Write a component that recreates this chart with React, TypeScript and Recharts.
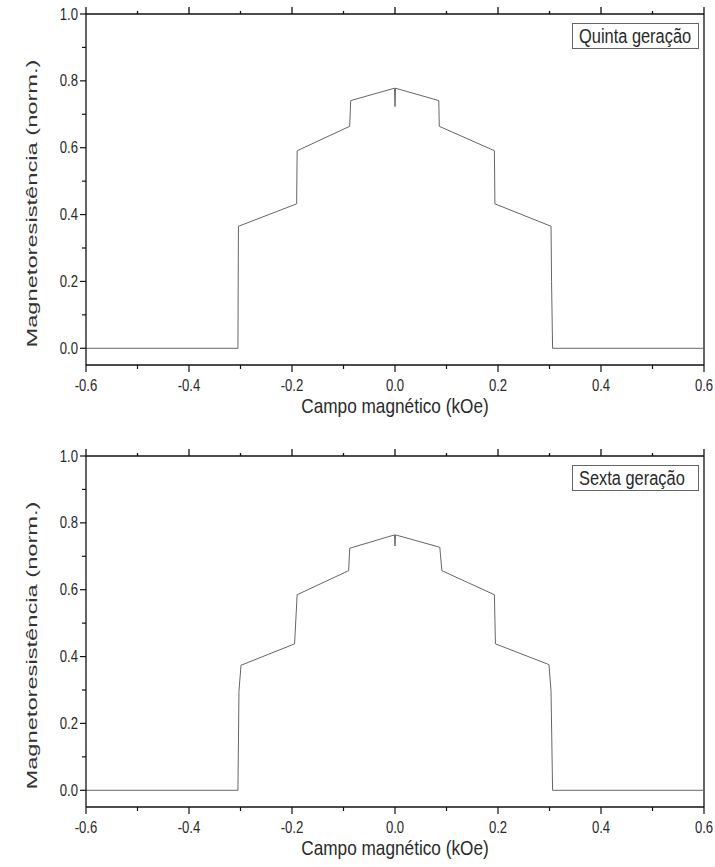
import React from "react";
import { Line, LineChart, ReferenceLine, XAxis, YAxis } from "recharts";

// campo magnético (kOe) e magnetoresistência normalizada
const H_QUINTA = [-0.6, -0.305, -0.304, -0.191, -0.19, -0.088, -0.086, -0.001, 0, 0.001, 0.085, 0.086, 0.193, 0.194, 0.303, 0.304, 0.306, 0.6];
const MR_QUINTA = [0, 0, 0.365, 0.432, 0.591, 0.664, 0.741, 0.778, 0.723, 0.778, 0.741, 0.664, 0.591, 0.432, 0.365, 0.2, 0, 0];

const H_SEXTA = [-0.6, -0.305, -0.303, -0.299, -0.195, -0.19, -0.09, -0.088, -0.001, 0, 0.001, 0.087, 0.091, 0.193, 0.195, 0.299, 0.303, 0.306, 0.6];
const MR_SEXTA = [0, 0, 0.296, 0.374, 0.438, 0.585, 0.657, 0.724, 0.764, 0.731, 0.764, 0.727, 0.657, 0.585, 0.438, 0.376, 0.296, 0, 0];

const X_TICKS = [-0.6, -0.5, -0.4, -0.3, -0.2, -0.1, 0, 0.1, 0.2, 0.3, 0.4, 0.5, 0.6];
const Y_TICKS = [0, 0.1, 0.2, 0.3, 0.4, 0.5, 0.6, 0.7, 0.8, 0.9, 1.0];

const PANELS = ["Quinta geração", "Sexta geração"];

const FONT = "'Liberation Sans', Arial, sans-serif";
const AXIS = "#111";
const TXT = "#2a2a2a";
const NARROW = 0.82; // the original text is horizontally squeezed
const MARGIN = { top: 14, right: 11, left: 26, bottom: 17 };
const Y_MAX = 1;
// top frame tick lengths, in y units (about 7px and 3px)
const TOP_MAJOR = 0.021;
const TOP_MINOR = 0.009;

const isMajor = (v: number) => Math.abs(Math.round(v * 10)) % 2 === 0;

function BottomTick({ x, y, payload }: any) {
  const v = payload.value;
  const major = isMajor(v);
  return (
    <g>
      <line x1={x} x2={x} y1={y} y2={y + (major ? 7 : 4)} stroke={AXIS} strokeWidth={1.2} />
      {major && (
        <text
          transform={`translate(${x} ${y + 26}) scale(${NARROW} 1)`}
          textAnchor="middle"
          fontSize={16}
          fontFamily={FONT}
          fill={TXT}
        >
          {v.toFixed(1)}
        </text>
      )}
    </g>
  );
}

function LeftTick({ x, y, payload }: any) {
  const v = payload.value;
  const major = isMajor(v);
  return (
    <g>
      <line x1={x} x2={x - (major ? 6 : 4)} y1={y} y2={y} stroke={AXIS} strokeWidth={1.2} />
      {major && (
        <text
          transform={`translate(${x - 8} ${y + 5.5}) scale(${NARROW} 1)`}
          textAnchor="end"
          fontSize={16}
          fontFamily={FONT}
          fill={TXT}
        >
          {v.toFixed(1)}
        </text>
      )}
    </g>
  );
}

function XTitle({ viewBox }: any) {
  const cx = viewBox.x + viewBox.width / 2;
  return (
    <text
      transform={`translate(${cx} ${viewBox.y + 48}) scale(${NARROW} 1)`}
      textAnchor="middle"
      fontSize={21}
      fontFamily={FONT}
      fill={TXT}
    >
      Campo magnético (kOe)
    </text>
  );
}

function YTitle({ viewBox }: any) {
  const cx = 37;
  const cy = viewBox.y + viewBox.height / 2 + 14;
  return (
    <text
      x={cx}
      y={cy}
      transform={`rotate(-90 ${cx} ${cy})`}
      textAnchor="middle"
      fontSize={15}
      fontFamily={FONT}
      textLength={288}
      lengthAdjust="spacingAndGlyphs"
      fill="#333"
    >
      Magnetoresistência (norm.)
    </text>
  );
}

function Panel({ h, mr, title, top }: { h: number[]; mr: number[]; title: string; top: number }) {
  const data = h.map((v, i) => ({ h: v, mr: mr[i] }));
  return (
    <div style={{ position: "absolute", left: 0, top, width: 715, height: 442 }}>
      <LineChart width={715} height={442} data={data} margin={MARGIN}>
        <XAxis
          dataKey="h"
          type="number"
          domain={[-0.6, 0.6]}
          ticks={X_TICKS}
          interval={0}
          height={60}
          tickSize={0}
          tickMargin={0}
          tickLine={false}
          tick={<BottomTick />}
          axisLine={{ stroke: AXIS, strokeWidth: 1.3 }}
          label={<XTitle />}
        />
        <YAxis
          type="number"
          domain={[-0.05, Y_MAX]}
          ticks={Y_TICKS}
          interval={0}
          width={60}
          tickSize={0}
          tickMargin={0}
          tickLine={false}
          tick={<LeftTick />}
          axisLine={{ stroke: AXIS, strokeWidth: 1.3 }}
          label={<YTitle />}
        />
        <ReferenceLine y={Y_MAX} stroke={AXIS} strokeWidth={1.3} />
        <ReferenceLine x={0.6} stroke={AXIS} strokeWidth={1.3} />
        {X_TICKS.map((v) => (
          <ReferenceLine
            key={v}
            ifOverflow="visible"
            segment={[
              { x: v, y: Y_MAX },
              { x: v, y: Y_MAX + (isMajor(v) ? TOP_MAJOR : TOP_MINOR) },
            ]}
            stroke={AXIS}
            strokeWidth={1.3}
          />
        ))}
        <Line
          type="linear"
          dataKey="mr"
          stroke="#666"
          strokeWidth={1}
          dot={false}
          activeDot={false}
          isAnimationActive={false}
        />
      </LineChart>
      <div
        style={{
          position: "absolute",
          left: 572,
          top: 23,
          width: 125,
          height: 24,
          border: "1px solid #666",
          fontFamily: FONT,
          fontSize: 20,
          lineHeight: "24px",
          color: TXT,
          whiteSpace: "nowrap",
          background: "#fff",
          overflow: "hidden",
        }}
      >
        <span
          style={{
            display: "inline-block",
            marginLeft: 6,
            transform: `scaleX(${NARROW})`,
            transformOrigin: "left center",
          }}
        >
          {title}
        </span>
      </div>
    </div>
  );
}

export default function App() {
  return (
    <div style={{ position: "absolute", left: 0, top: 0, width: 715, height: 867, overflow: "hidden", background: "#fff" }}>
      <Panel h={H_QUINTA} mr={MR_QUINTA} title={PANELS[0]} top={0} />
      <Panel h={H_SEXTA} mr={MR_SEXTA} title={PANELS[1]} top={442} />
    </div>
  );
}
